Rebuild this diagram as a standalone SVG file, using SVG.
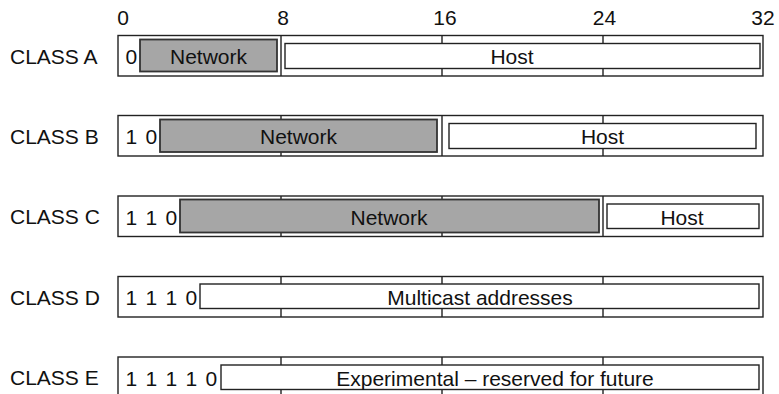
<svg xmlns="http://www.w3.org/2000/svg" width="779" height="394" viewBox="0 0 779 394">
<style>
text{font-family:"Liberation Sans",Arial,sans-serif;font-size:21px;fill:#111}
.row{fill:#fff;stroke:#222;stroke-width:1.4}
.tick{stroke:#222;stroke-width:1.4}
.net{fill:#a6a6a6;stroke:#333;stroke-width:1.8}
.box{fill:#fff;stroke:#222;stroke-width:1.4}
.m{text-anchor:middle}
.bits{word-spacing:2.5px}
</style>
<g id="scale">
<text class="m" x="123" y="25">0</text>
<text class="m" x="283" y="25">8</text>
<text class="m" x="445" y="25">16</text>
<text class="m" x="604.5" y="25">24</text>
<text class="m" x="763" y="25">32</text>
</g>
<g id="classA">
<text x="10" y="63.5">CLASS A</text>
<rect class="row" x="118" y="35.5" width="645" height="40.5"/>
<path class="tick" d="M281 35.5V76M442 35.5V76M603 35.5V76"/>
<rect class="net" x="140" y="39.5" width="137" height="32"/>
<rect class="box" x="285" y="43.5" width="475" height="25"/>
<text x="125.5" y="64">0</text>
<text class="m" x="208.5" y="64">Network</text>
<text class="m" x="512" y="64">Host</text>
</g>
<g id="classB">
<text x="10" y="143.5">CLASS B</text>
<rect class="row" x="118" y="115.5" width="645" height="40.5"/>
<path class="tick" d="M281 115.5V156M442 115.5V156M603 115.5V156"/>
<rect class="net" x="160" y="119.5" width="277" height="32.5"/>
<rect class="box" x="449" y="123.5" width="307" height="25"/>
<text class="bits" x="125.5" y="144">1 0</text>
<text class="m" x="298.5" y="144">Network</text>
<text class="m" x="602.5" y="144">Host</text>
</g>
<g id="classC">
<text x="10" y="224">CLASS C</text>
<rect class="row" x="118" y="196" width="645" height="40.5"/>
<path class="tick" d="M281 196V236.5M442 196V236.5M603 196V236.5"/>
<rect class="net" x="180" y="199.5" width="419" height="33"/>
<rect class="box" x="607" y="204" width="152" height="24.5"/>
<text class="bits" x="125.5" y="224.5">1 1 0</text>
<text class="m" x="389" y="224.5">Network</text>
<text class="m" x="682" y="224.5">Host</text>
</g>
<g id="classD">
<text x="10" y="304.5">CLASS D</text>
<rect class="row" x="118" y="276.5" width="645" height="40.5"/>
<path class="tick" d="M281 276.5V317M442 276.5V317M603 276.5V317"/>
<rect class="box" x="200" y="284" width="559" height="24.5"/>
<text class="bits" x="125.5" y="305">1 1 1 0</text>
<text class="m" x="480" y="305">Multicast addresses</text>
</g>
<g id="classE">
<text x="10" y="385">CLASS E</text>
<rect class="row" x="118" y="357" width="645" height="40.5"/>
<path class="tick" d="M281 357V397.5M442 357V397.5M603 357V397.5"/>
<rect class="box" x="221" y="365" width="538" height="24.5"/>
<text class="bits" x="125.5" y="385.5">1 1 1 1 0</text>
<text class="m" x="495" y="385.5">Experimental – reserved for future</text>
</g>
<g id="connectors"/>
</svg>
